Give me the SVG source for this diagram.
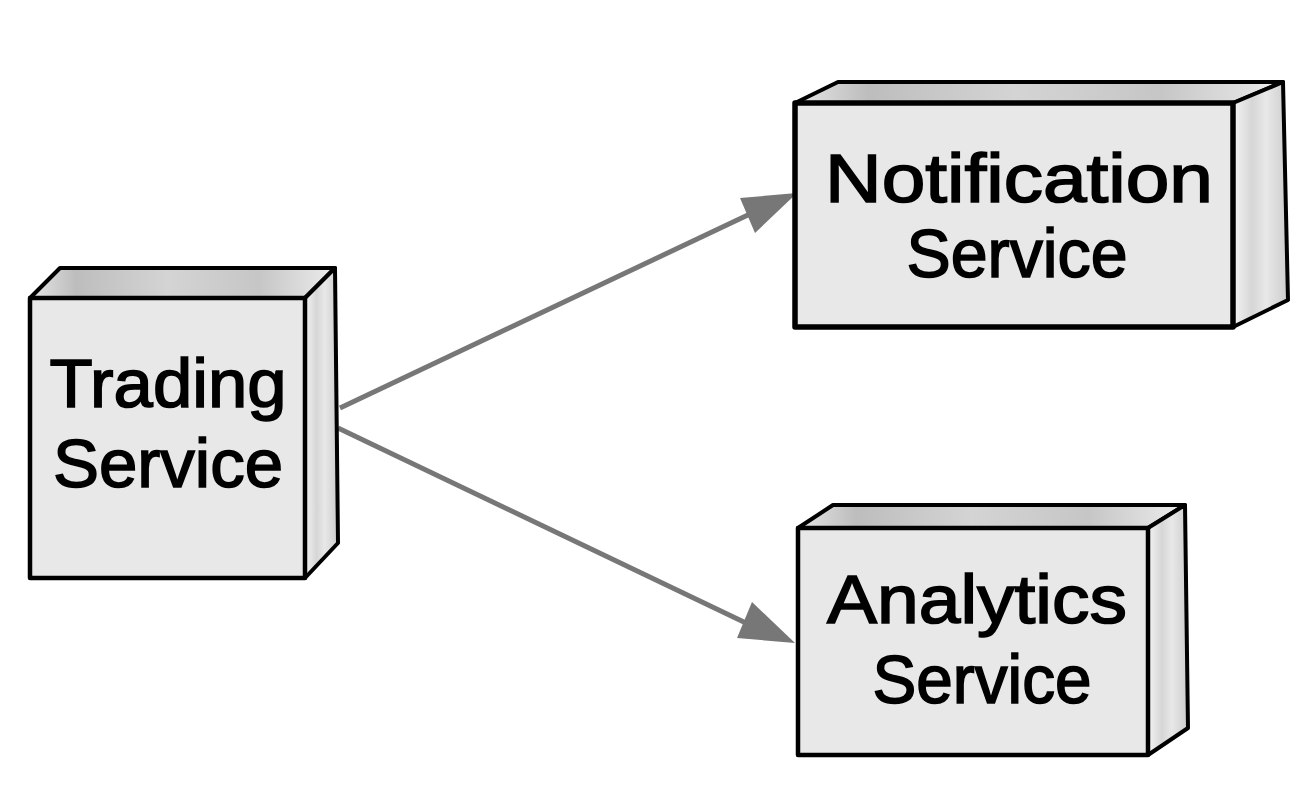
<svg xmlns="http://www.w3.org/2000/svg" width="1314" height="798" viewBox="0 0 1314 798">
<defs>
<linearGradient id="topg" x1="0" y1="0" x2="1" y2="0">
<stop offset="0" stop-color="#e6e6e6"/>
<stop offset="0.15" stop-color="#bdbdbd"/>
<stop offset="0.45" stop-color="#d4d4d4"/>
<stop offset="0.75" stop-color="#c6c6c6"/>
<stop offset="1" stop-color="#ececec"/>
</linearGradient>
<linearGradient id="sideg" x1="0" y1="0" x2="1" y2="0">
<stop offset="0" stop-color="#f4f4f4"/>
<stop offset="0.35" stop-color="#d6d6d6"/>
<stop offset="0.6" stop-color="#e8e8e8"/>
<stop offset="1" stop-color="#cccccc"/>
</linearGradient>
<style>
.front{fill:#e8e8e8;stroke:#000;stroke-width:4.5;stroke-linejoin:round}
.top{fill:url(#topg);stroke:#000;stroke-width:4;stroke-linejoin:round}
.side{fill:url(#sideg);stroke:#000;stroke-width:4;stroke-linejoin:round}
.lbl{font-family:"Liberation Sans","DejaVu Sans",sans-serif;font-size:68px;fill:#000;stroke:#000;stroke-width:1.6;text-anchor:middle}
.conn{stroke:#777777;stroke-width:5;fill:none}
</style>
</defs>
<rect width="1314" height="798" fill="#ffffff"/>
<g id="connectors">
<line class="conn" x1="340" y1="408" x2="750" y2="214"/>
<polygon points="797,193 740,198 755,233" fill="#777777"/>
<line class="conn" x1="338" y1="428" x2="748" y2="624"/>
<polygon points="795,643 752,602 737,638" fill="#777777"/>
</g>
<g id="trading">
<polygon class="top" points="30,298 60,268 335,268 305,298"/>
<polygon class="side" points="305,298 335,268 338,543 305,578"/>
<rect class="front" x="30" y="298" width="275" height="280"/>
<text class="lbl" x="168" y="407" textLength="237" lengthAdjust="spacingAndGlyphs">Trading</text>
<text class="lbl" x="168" y="487" textLength="230" lengthAdjust="spacingAndGlyphs">Service</text>
</g>
<g id="notification">
<polygon class="top" points="795,103 838,82 1283,82 1233,103"/>
<polygon class="side" points="1233,103 1283,82 1288,300 1233,327"/>
<rect class="front" x="795" y="103" width="438" height="224" style="stroke-width:5.5"/>
<text class="lbl" x="1019" y="202" textLength="388" lengthAdjust="spacingAndGlyphs">Notification</text>
<text class="lbl" x="1017" y="277" textLength="221" lengthAdjust="spacingAndGlyphs">Service</text>
</g>
<g id="analytics">
<polygon class="top" points="798,528 833,505 1185,505 1148,528"/>
<polygon class="side" points="1148,528 1185,505 1188,728 1148,755"/>
<rect class="front" x="798" y="528" width="350" height="227"/>
<text class="lbl" x="977" y="623" textLength="300" lengthAdjust="spacingAndGlyphs">Analytics</text>
<text class="lbl" x="982" y="703" textLength="219" lengthAdjust="spacingAndGlyphs">Service</text>
</g>
</svg>
